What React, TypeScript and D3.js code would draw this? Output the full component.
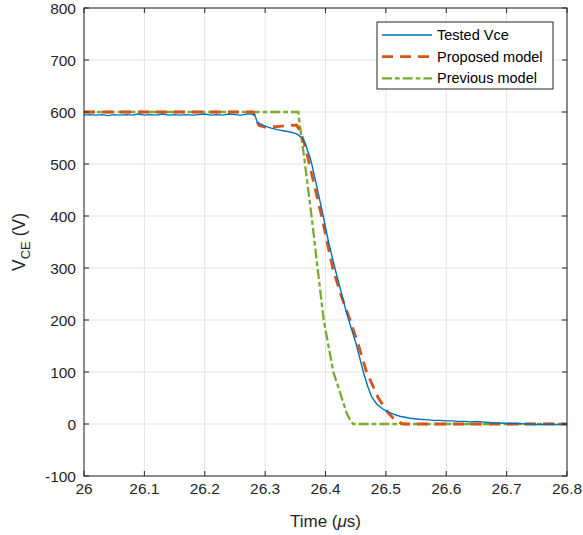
import React from "react";
import * as d3 from "d3";

const W = 583;
const H = 535;
const margin = { left: 84, right: 16, top: 8, bottom: 59 };

const xTicks = [26, 26.1, 26.2, 26.3, 26.4, 26.5, 26.6, 26.7, 26.8];
const yTicks = [-100, 0, 100, 200, 300, 400, 500, 600, 700, 800];

// Tested Vce (blue)
const testedT = [
  26.0, 26.01, 26.02, 26.03, 26.04, 26.05, 26.06, 26.07, 26.08, 26.09, 26.1, 26.11, 26.12, 26.13, 26.14,
  26.15, 26.16, 26.17, 26.18, 26.19, 26.2, 26.21, 26.22, 26.23, 26.24, 26.25, 26.26, 26.27, 26.278,
  26.283, 26.287, 26.292, 26.3, 26.31, 26.32, 26.33, 26.34, 26.35, 26.355, 26.36, 26.363, 26.367, 26.37,
  26.374, 26.377, 26.385, 26.3964, 26.405, 26.4157, 26.425, 26.435, 26.4434, 26.45, 26.4627, 26.47, 26.4765,
  26.485, 26.496, 26.51, 26.523, 26.54, 26.556, 26.57, 26.58, 26.59, 26.6, 26.61, 26.62, 26.63, 26.64,
  26.65, 26.66, 26.67, 26.68, 26.69, 26.7, 26.71, 26.72, 26.73, 26.74, 26.75, 26.76, 26.77, 26.78,
  26.79, 26.8,
];
const testedV = [
  594, 595, 594, 595, 593, 595, 594, 595, 594, 596, 594, 595, 594, 596, 594,
  595, 594, 595, 594, 595, 596, 594, 595, 594, 596, 595, 594, 596, 596,
  594, 580, 577, 573, 569, 566, 564, 562, 559, 556, 551, 547, 538, 527,
  514, 501, 460, 399, 350, 299, 258, 213, 181, 157, 100, 72, 52,
  38, 28, 20, 15, 11, 9, 8, 7, 7, 6, 6, 5, 5, 4,
  5, 4, 3, 2, 2, 1, 1, 1, 0, 0, -1, -1, 0, -1,
  -1, -1,
];

// Proposed model (red dashed)
const proposedT = [
  26.0, 26.28, 26.285, 26.29, 26.3, 26.32, 26.34, 26.352, 26.357, 26.363, 26.366, 26.373, 26.3937,
  26.412, 26.425, 26.4406, 26.455, 26.468, 26.4875, 26.504, 26.515, 26.528, 26.8,
];
const proposedV = [
  600, 600, 585, 574, 571, 572, 574, 575, 565, 547, 535, 501, 399,
  299, 250, 200, 150, 100, 50, 21, 8, 0, 0,
];

// Previous model (green dash-dot)
const previousT = [
  26.0, 26.355, 26.358, 26.366, 26.377, 26.387, 26.397, 26.413, 26.427, 26.435, 26.441, 26.446, 26.8,
];
const previousV = [600, 600, 570, 501, 399, 299, 200, 100, 50, 21, 7, 0, 0];

const legendLabels = ["Tested Vce", "Proposed model", "Previous model"];
const colors = ["#0072BD", "#D95319", "#77AC30"];

export default function App() {
  const x = d3.scaleLinear().domain([26, 26.8]).range([margin.left, W - margin.right]);
  const y = d3.scaleLinear().domain([-100, 800]).range([H - margin.bottom, margin.top]);
  const line = d3
    .line<[number, number]>()
    .x((d) => x(d[0]))
    .y((d) => y(d[1]));

  const tested = testedT.map((t, i) => [t, testedV[i]] as [number, number]);
  const proposed = proposedT.map((t, i) => [t, proposedV[i]] as [number, number]);
  const previous = previousT.map((t, i) => [t, previousV[i]] as [number, number]);

  const x0 = margin.left;
  const x1 = W - margin.right;
  const y0 = margin.top;
  const y1 = H - margin.bottom;
  const font = "'Liberation Sans', Arial, Helvetica, sans-serif";
  const axisColor = "#262626";
  const tickLen = 5;
  const greenDash = "10 3 4.7 3";
  const redDash = "11 7";

  const lx = 377;
  const ly = 22;
  const lw = 176;
  const lh = 67;

  return (
    <svg
      width={W}
      height={H}
      style={{ position: "absolute", left: 0, top: 0, background: "#fff" }}
      fontFamily={font}
    >
      <rect x={0} y={0} width={W} height={H} fill="#fff" />
      {/* grid */}
      {xTicks.map((t) => (
        <line key={"gx" + t} x1={x(t)} x2={x(t)} y1={y0} y2={y1} stroke="#e3e3e3" strokeWidth={1} />
      ))}
      {yTicks.map((t) => (
        <line key={"gy" + t} x1={x0} x2={x1} y1={y(t)} y2={y(t)} stroke="#e3e3e3" strokeWidth={1} />
      ))}
      {/* series */}
      <path d={line(previous) || ""} fill="none" stroke={colors[2]} strokeWidth={2.3} strokeDasharray={greenDash} />
      <path d={line(proposed) || ""} fill="none" stroke={colors[1]} strokeWidth={2.8} strokeDasharray={redDash} />
      <path d={line(tested) || ""} fill="none" stroke={colors[0]} strokeWidth={1.4} />
      {/* ticks */}
      {xTicks.map((t) => (
        <g key={"tx" + t}>
          <line x1={x(t)} x2={x(t)} y1={y1} y2={y1 - tickLen} stroke={axisColor} />
          <line x1={x(t)} x2={x(t)} y1={y0} y2={y0 + tickLen} stroke={axisColor} />
          <text x={x(t)} y={y1 + 18} textAnchor="middle" fontSize={15.5} fill={axisColor}>
            {String(t)}
          </text>
        </g>
      ))}
      {yTicks.map((t) => (
        <g key={"ty" + t}>
          <line x1={x0} x2={x0 + tickLen} y1={y(t)} y2={y(t)} stroke={axisColor} />
          <line x1={x1} x2={x1 - tickLen} y1={y(t)} y2={y(t)} stroke={axisColor} />
          <text x={x0 - 8} y={y(t) + 5.5} textAnchor="end" fontSize={15.5} fill={axisColor}>
            {String(t)}
          </text>
        </g>
      ))}
      {/* box */}
      <rect x={x0} y={y0} width={x1 - x0} height={y1 - y0} fill="none" stroke={axisColor} strokeWidth={1} />
      {/* axis labels */}
      <text x={(x0 + x1) / 2} y={527} textAnchor="middle" fontSize={17} fill={axisColor}>
        Time (<tspan fontStyle="italic">μ</tspan>s)
      </text>
      <text transform={`translate(25, ${(y0 + y1) / 2}) rotate(-90)`} textAnchor="middle" fontSize={17.5} fill={axisColor}>
        V<tspan fontSize={13} dy={5}>CE</tspan>
        <tspan dy={-5}> (V)</tspan>
      </text>
      {/* legend */}
      <rect x={lx} y={ly} width={lw} height={lh} fill="#fff" stroke={axisColor} strokeWidth={1} />
      {legendLabels.map((lab, i) => {
        const yy = ly + 13 + i * 21.7;
        return (
          <g key={lab}>
            <line
              x1={lx + 5}
              x2={lx + 55}
              y1={yy}
              y2={yy}
              stroke={colors[i]}
              strokeWidth={i === 0 ? 1.4 : i === 1 ? 2.8 : 2.3}
              strokeDasharray={i === 1 ? redDash : i === 2 ? greenDash : undefined}
            />
            <text x={lx + 60} y={yy + 5} fontSize={14.5} fill="#000">
              {lab}
            </text>
          </g>
        );
      })}
    </svg>
  );
}
